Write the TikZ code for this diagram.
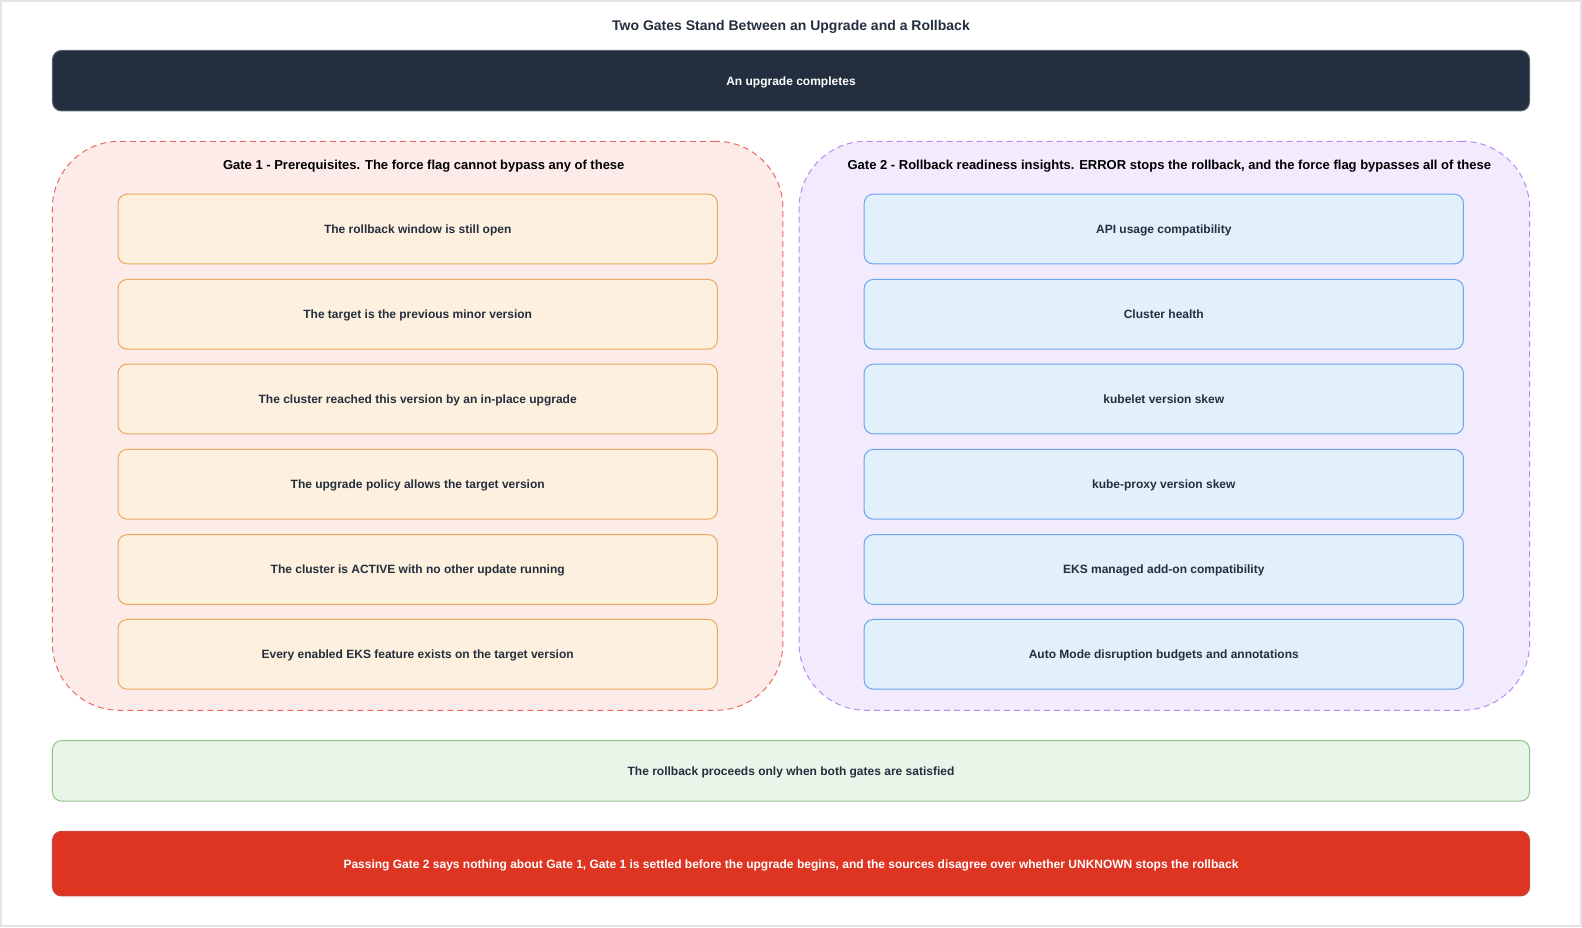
\documentclass[tikz,border=0pt]{standalone}
\usepackage{fontspec}
\setmainfont{Liberation Sans}
\definecolor{ink}{HTML}{232F3E}
\definecolor{darkfill}{HTML}{232F3E}
\definecolor{darkdraw}{HTML}{5A6470}
\definecolor{frameg}{HTML}{E4E4E4}
\definecolor{g1fill}{HTML}{FDEBEA}
\definecolor{g1draw}{HTML}{EA6B60}
\definecolor{g2fill}{HTML}{F2EAFD}
\definecolor{g2draw}{HTML}{B98AF5}
\definecolor{orfill}{HTML}{FEF0DE}
\definecolor{ordraw}{HTML}{E9AA5C}
\definecolor{blfill}{HTML}{E2F0FC}
\definecolor{bldraw}{HTML}{6AA5F0}
\definecolor{grfill}{HTML}{E8F5E8}
\definecolor{grdraw}{HTML}{93C08A}
\definecolor{redfill}{HTML}{DD3522}
\definecolor{reddraw}{HTML}{C9473F}
\tikzset{
  txt/.style={font=\bfseries\fontsize{12}{14}\selectfont, text=ink, text depth=0pt},
  basebox/.style={rounded corners=9pt, inner sep=0pt, line width=1pt, txt},
  wide/.style={basebox, minimum width=1477pt},
  topbox/.style={wide, minimum height=60.5pt, fill=darkfill, draw=darkdraw, text=white},
  okbox/.style={wide, minimum height=60.5pt, fill=grfill, draw=grdraw},
  warnbox/.style={wide, minimum height=64.6pt, fill=redfill, draw=reddraw, text=white},
  gate/.style={rounded corners=67pt, inner sep=0pt, line width=1pt, dash pattern=on 6pt off 4pt, minimum width=730.5pt, minimum height=569pt},
  gateone/.style={gate, fill=g1fill, draw=g1draw},
  gatetwo/.style={gate, fill=g2fill, draw=g2draw},
  item/.style={basebox, minimum width=599.3pt, minimum height=69.6pt},
  itemone/.style={item, fill=orfill, draw=ordraw},
  itemtwo/.style={item, fill=blfill, draw=bldraw},
  gtitle/.style={font=\bfseries\fontsize{13}{15}\selectfont, text=black, inner sep=0pt, text depth=0pt},
}
\begin{document}
\begin{tikzpicture}[x=1.00893pt,y=-1.00893pt]
\useasboundingbox (0,0) rectangle (1568,918.8);
\draw[frameg, line width=2pt] (1,1) rectangle (1567,917.8);

\node[font=\bfseries\fontsize{14}{16}\selectfont, text=ink, inner sep=0pt, text depth=0pt] (title) at (784,25.5) {Two Gates Stand Between an Upgrade and a Rollback};

\node[topbox] (top) at (784,80) {An upgrade completes};

\node[gateone] (gate1) at (414,422) {};
\node[gatetwo] (gate2) at (1154,422) {};

\node[gtitle] (g1title) at (420,163.5) {Gate 1 - Prerequisites. The force flag cannot bypass any of these};
\node[gtitle] (g2title) at (1159,163.5) {Gate 2 - Rollback readiness insights. ERROR stops the rollback, and the force flag bypasses all of these};

\node[itemone] (a1) at (414,227) {The rollback window is still open};
\node[itemone] (a2) at (414,311.5) {The target is the previous minor version};
\node[itemone] (a3) at (414,395.5) {The cluster reached this version by an in-place upgrade};
\node[itemone] (a4) at (414,480) {The upgrade policy allows the target version};
\node[itemone] (a5) at (414,564.5) {The cluster is ACTIVE with no other update running};
\node[itemone] (a6) at (414,648.5) {Every enabled EKS feature exists on the target version};

\node[itemtwo] (b1) at (1153.5,227) {API usage compatibility};
\node[itemtwo] (b2) at (1153.5,311.5) {Cluster health};
\node[itemtwo] (b3) at (1153.5,395.5) {kubelet version skew};
\node[itemtwo] (b4) at (1153.5,480) {kube-proxy version skew};
\node[itemtwo] (b5) at (1153.5,564.5) {EKS managed add-on compatibility};
\node[itemtwo] (b6) at (1153.5,648.5) {Auto Mode disruption budgets and annotations};

\node[okbox] (ok) at (784,764) {The rollback proceeds only when both gates are satisfied};
\node[warnbox] (warn) at (784,856) {Passing Gate 2 says nothing about Gate 1, Gate 1 is settled before the upgrade begins, and the sources disagree over whether UNKNOWN stops the rollback};
\end{tikzpicture}
\end{document}
